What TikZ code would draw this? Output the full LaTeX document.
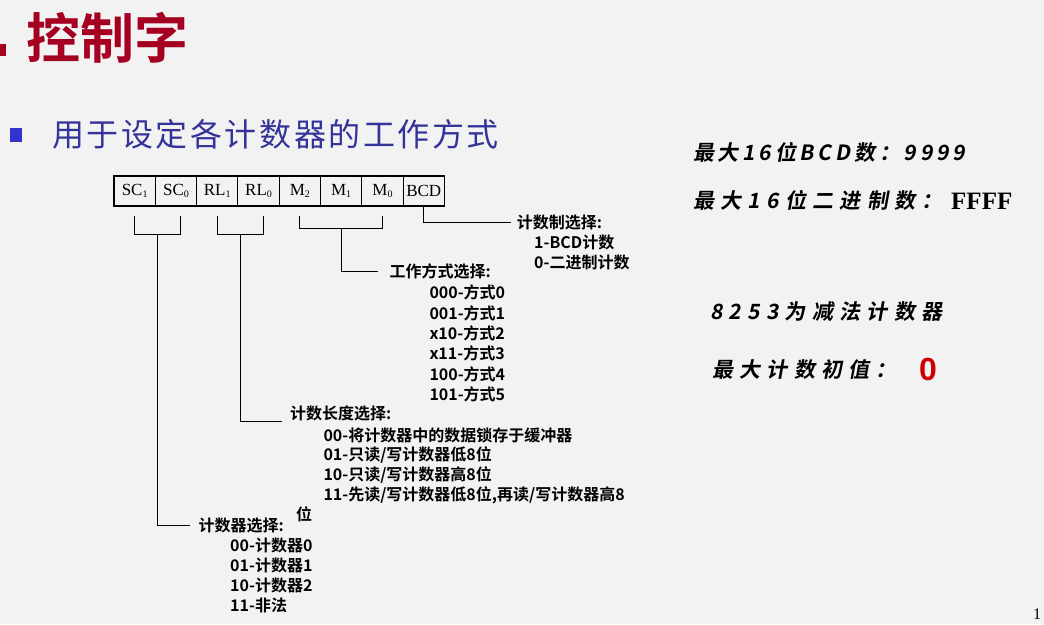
\documentclass[tikz,border=0pt]{standalone}
\usepackage{fontspec}
\setmainfont{Liberation Serif}
\newfontfamily\cjk{Noto Sans CJK SC}
\newfontfamily\cjkbold{Noto Sans CJK SC Bold}
\newfontfamily\brush{Noto Sans CJK SC Bold}[FakeSlant=0.18, LetterSpace=30]
\newfontfamily\brushnarrow{Noto Sans CJK SC Bold}[FakeSlant=0.18, LetterSpace=18]
\newfontfamily\arialb{Liberation Sans Bold}
\usetikzlibrary{positioning,calc}
\definecolor{bgc}{HTML}{F2F2F2}
\definecolor{titlered}{HTML}{A50021}
\definecolor{subblue}{HTML}{333399}
\definecolor{bulletblue}{HTML}{3333CC}
\definecolor{zerored}{HTML}{CC0000}
\newcommand\subd[1]{\raisebox{-0.2ex}{\fontsize{10}{10}\selectfont#1}}

\begin{document}
\begin{tikzpicture}[
    x=1pt, y=-1pt,
    node distance=0pt,
    cell/.style={draw, line width=1.1pt, minimum width=41.3pt, minimum height=30pt,
                 inner sep=0pt, outer sep=0pt, font=\fontsize{17}{17}\selectfont},
    lbl/.style={anchor=west, inner sep=0pt, font=\cjkbold\fontsize{16}{16}\selectfont},
    note/.style={anchor=west, inner sep=0pt, font=\brush\fontsize{21}{21}\selectfont},
    conn/.style={line width=0.9pt}
]
\useasboundingbox (0,0) rectangle (1044,624);
\fill[bgc] (0,0) rectangle (1044,624);

% title and bullet line
\fill[titlered] (0,44) rectangle (6,56);
\node[anchor=west, inner sep=0pt, text=titlered, font=\cjkbold\fontsize{54}{54}\selectfont] (title) at (26,38) {控制字};
\fill[bulletblue] (10,128) rectangle (22,142);
\node[anchor=west, inner sep=0pt, text=subblue, font=\cjk\addfontfeature{LetterSpace=8}\fontsize{32}{32}\selectfont] (sub) at (52,134) {用于设定各计数器的工作方式};

% the control word
\node[cell, anchor=north west] (sc1) at (114,176) {SC\subd{1}};
\node[cell, right=of sc1] (sc0) {SC\subd{0}};
\node[cell, right=of sc0] (rl1) {RL\subd{1}};
\node[cell, right=of rl1] (rl0) {RL\subd{0}};
\node[cell, right=of rl0] (m2) {M\subd{2}};
\node[cell, right=of m2] (m1) {M\subd{1}};
\node[cell, right=of m1] (m0) {M\subd{0}};
\node[cell, right=of m0] (bcd) {BCD};

% BCD
\node[lbl] (bcdlbl) at (516.7,222.7) {计数制选择:};
\node[lbl] (bcd1) at (534,242.7) {1-BCD计数};
\node[lbl] (bcd0) at (534,262.7) {0-二进制计数};
\draw[conn, shorten >=6pt] (bcd.south) |- (bcdlbl.west);

% mode
\node[lbl] (modelbl) at (389.3,271.7) {工作方式选择:};
\foreach \t [count=\i] in {000-方式0,001-方式1,x10-方式2,x11-方式3,100-方式4,101-方式5}
  \node[lbl] (mode\i) at (429.3,{292.7+20.3*(\i-1)}) {\t};
\draw[conn] ([yshift=-10pt]m2.south) |- ([yshift=-22.6pt]m0.south) -- ([yshift=-10pt]m0.south);
\coordinate (mmid) at ($(m2.south)!0.5!(m0.south)+(0,22.6)$);
\draw[conn, shorten >=11pt] (mmid) |- (modelbl.west);

% read/load
\node[lbl] (rllbl) at (290,413.3) {计数长度选择:};
\foreach \t [count=\i] in {00-将计数器中的数据锁存于缓冲器,01-只读/写计数器低8位,10-只读/写计数器高8位,{11-先读/写计数器低8位,再读/写计数器高8}}
  \node[lbl] (rlitem\i) at (323.3,{435.7+19.7*(\i-1)}) {\t};
\node[lbl] (rlwrap) at (296,514) {位};
\draw[conn] ([yshift=-10pt]rl1.south) |- ([xshift=4.6pt,yshift=-28pt]rl0.south) -- ([xshift=4.6pt,yshift=-10pt]rl0.south);
\coordinate (rlmid) at ($(rl1.south)!0.5!([xshift=4.6pt]rl0.south)+(0,28)$);
\draw[conn, shorten >=8pt] (rlmid) |- ([yshift=-8.4pt]rllbl.west);

% select counter
\node[lbl] (sclbl) at (198.3,525) {计数器选择:};
\foreach \t [count=\i] in {00-计数器0,01-计数器1,10-计数器2,11-非法}
  \node[lbl] (scitem\i) at (230,{545+20.2*(\i-1)}) {\t};
\draw[conn] ([yshift=-10pt]sc1.south) |- ([xshift=4.3pt,yshift=-28pt]sc0.south) -- ([xshift=4.3pt,yshift=-10pt]sc0.south);
\coordinate (scmid) at ($(sc1.south)!0.5!([xshift=4.3pt]sc0.south)+(0,28)$);
\draw[conn, shorten >=8pt] (scmid) |- (sclbl.west);

% notes on the right
\node[note, font=\brushnarrow\fontsize{21}{21}\selectfont] (max1) at (693,152) {最大16位BCD数：9999};
\node[note] (max2) at (693,200) {最大16位二进制数：};
\node[anchor=west, inner sep=0pt, font=\bfseries\fontsize{25}{25}\selectfont] (ffff) at (951,201) {FFFF};
\node[note] (down) at (710,312) {8253为减法计数器};
\node[note] (maxini) at (712,370) {最大计数初值：};
\node[anchor=west, inner sep=0pt, text=zerored, font=\arialb\fontsize{32}{32}\selectfont] (zero) at (919,369) {0};
\node[anchor=west, inner sep=0pt, font=\fontsize{16}{16}\selectfont] (page) at (1033,614) {1};
\end{tikzpicture}
\end{document}
